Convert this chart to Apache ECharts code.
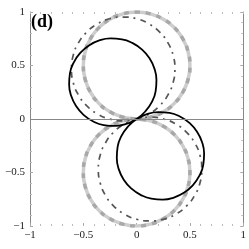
<!DOCTYPE html>
<html><head><meta charset="utf-8">
<script src="https://cdn.jsdelivr.net/npm/echarts@6/dist/echarts.min.js"></script>
<style>html,body{margin:0;padding:0;background:#fff}#c{width:249px;height:249px}</style>
</head><body><div id="c"></div>
<script>
// Tick labels
const xTicks = [-1, -0.5, 0, 0.5, 1];
const yTicks = [-1, -0.5, 0, 0.5, 1];
const panelLabel = '(d)';

// Gray curve (two lobes)
const grayUpper = [[0,0],[0.129,0.017],[0.25,0.067],[0.354,0.146],[0.433,0.25],[0.483,0.371],[0.5,0.5],[0.483,0.629],[0.433,0.75],[0.354,0.854],[0.25,0.933],[0.129,0.983],[0,1],[-0.129,0.983],[-0.25,0.933],[-0.354,0.854],[-0.433,0.75],[-0.483,0.629],[-0.5,0.5],[-0.483,0.371],[-0.433,0.25],[-0.354,0.146],[-0.25,0.067],[-0.129,0.017],[0,0]];
const grayLower = [[0,0],[0.129,-0.017],[0.25,-0.067],[0.354,-0.146],[0.433,-0.25],[0.483,-0.371],[0.5,-0.5],[0.483,-0.629],[0.433,-0.75],[0.354,-0.854],[0.25,-0.933],[0.129,-0.983],[0,-1],[-0.129,-0.983],[-0.25,-0.933],[-0.354,-0.854],[-0.433,-0.75],[-0.483,-0.629],[-0.5,-0.5],[-0.483,-0.371],[-0.433,-0.25],[-0.354,-0.146],[-0.25,-0.067],[-0.129,-0.017],[0,0]];

// Dash-dot curve
const dashUpper = [[0,0],[0.117,0.048],[0.217,0.125],[0.294,0.226],[0.3425,0.342],[0.359,0.468],[0.3425,0.594],[0.294,0.711],[0.217,0.811],[0.117,0.888],[0,0.937],[-0.126,0.953],[-0.252,0.937],[-0.369,0.888],[-0.469,0.811],[-0.546,0.711],[-0.595,0.594],[-0.611,0.468],[-0.595,0.342],[-0.546,0.226],[-0.469,0.125],[-0.369,0.048],[-0.252,0.0],[-0.126,-0.017],[0,0]];
const dashLower = [[0,0],[0.126,0.017],[0.252,0.0],[0.369,-0.048],[0.469,-0.125],[0.546,-0.226],[0.595,-0.342],[0.611,-0.468],[0.595,-0.594],[0.546,-0.711],[0.469,-0.811],[0.369,-0.888],[0.252,-0.937],[0.126,-0.953],[0,-0.937],[-0.117,-0.888],[-0.217,-0.811],[-0.294,-0.711],[-0.3425,-0.594],[-0.359,-0.468],[-0.3425,-0.342],[-0.294,-0.226],[-0.217,-0.125],[-0.117,-0.048],[0,0]];

// Black solid curve
const blackUpper = [[0,0],[0.081,0.070],[0.142,0.158],[0.178,0.259],[0.186,0.365],[0.167,0.471],[0.121,0.568],[0.051,0.649],[-0.037,0.709],[-0.138,0.745],[-0.245,0.753],[-0.350,0.734],[-0.447,0.688],[-0.528,0.618],[-0.589,0.530],[-0.625,0.429],[-0.633,0.323],[-0.614,0.217],[-0.568,0.121],[-0.498,0.039],[-0.410,-0.021],[-0.309,-0.057],[-0.202,-0.065],[-0.097,-0.046],[0,0]];
const blackLower = [[0,0],[0.097,0.046],[0.202,0.065],[0.309,0.057],[0.410,0.021],[0.498,-0.039],[0.568,-0.121],[0.614,-0.217],[0.633,-0.323],[0.625,-0.429],[0.589,-0.530],[0.528,-0.618],[0.447,-0.688],[0.350,-0.734],[0.245,-0.753],[0.138,-0.745],[0.037,-0.709],[-0.051,-0.649],[-0.121,-0.568],[-0.167,-0.471],[-0.186,-0.365],[-0.178,-0.259],[-0.142,-0.158],[-0.081,-0.070],[0,0]];

const serif = 'Liberation Serif';
const fmt = v => {
  if (!xTicks.includes(v)) return '';
  return String(v).replace('-', '\u2212');
};
const tickStyle = {show:true, inside:true, length:3, lineStyle:{color:'#aaa', width:1}};
const minorStyle = {show:true, splitNumber:5, length:2, lineStyle:{color:'#bbb', width:1}};
const lbl = {show:true, fontFamily:serif, fontSize:11, color:'#222', formatter:fmt};

const grayData = grayUpper.concat(grayLower.slice(1));
const dashData = dashUpper.concat(dashLower.slice(1));
const blackData = blackUpper.concat(blackLower.slice(1));

const chart = echarts.init(document.getElementById('c'), null, {renderer:'canvas'});
chart.setOption({
  animation:false,
  backgroundColor:'#fff',
  grid:{left:30, top:12, width:215, height:214},
  xAxis:[
    {type:'value', position:'bottom', min:-1, max:1, interval:0.5,
     axisLine:{show:false, onZero:false}, axisTick:tickStyle, minorTick:minorStyle,
     axisLabel:Object.assign({margin:4}, lbl), splitLine:{show:false}},
    {type:'value', position:'top', min:-1, max:1, interval:0.5,
     axisLine:{show:false, onZero:false}, axisTick:{show:true, inside:true, length:2, lineStyle:{color:'#bbb'}},
     minorTick:minorStyle, axisLabel:{show:false}, splitLine:{show:false}}
  ],
  yAxis:[
    {type:'value', position:'left', min:-1, max:1, interval:0.5,
     axisLine:{show:true, onZero:false, lineStyle:{color:'#888', width:1}}, axisTick:tickStyle, minorTick:minorStyle,
     axisLabel:Object.assign({margin:5}, lbl), splitLine:{show:false}},
    {type:'value', position:'right', min:-1, max:1, interval:0.5,
     axisLine:{show:true, onZero:false, lineStyle:{color:'#888', width:1}}, axisTick:tickStyle, minorTick:minorStyle,
     axisLabel:{show:false}, splitLine:{show:false}}
  ],
  series:[
    {type:'line', data:grayData, smooth:true, showSymbol:false, symbol:'none',
     lineStyle:{color:'#cdcdcd', width:3.5},
     markLine:{silent:true, symbol:'none', label:{show:false},
       lineStyle:{color:'#888', width:1, type:'solid'}, data:[{yAxis:0}]}},
    {type:'line', data:grayData, smooth:true, symbol:'none',
     lineStyle:{color:'#a8a8a8', width:3.5, type:[5,6]}},
    {type:'line', data:dashData, smooth:true, symbol:'none',
     lineStyle:{color:'#555', width:1.7, type:[6,5,2,5]}},
    {type:'line', data:blackData, smooth:true, symbol:'none',
     lineStyle:{color:'#000', width:1.8}}
  ],
  graphic:[{type:'text', left:31, top:13,
    style:{text:panelLabel, font:'bold 18px "Liberation Serif"', fill:'#000'}}]
});
</script></body></html>
